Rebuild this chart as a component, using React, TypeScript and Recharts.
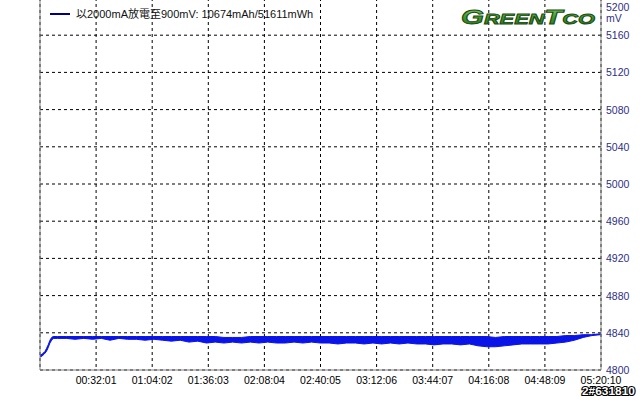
import React from 'react';
import { ComposedChart, Area, XAxis, YAxis, CartesianGrid, ReferenceLine } from 'recharts';

const FONT = '"Liberation Sans", Arial, "Noto Sans CJK TC", sans-serif';

// elapsed time in seconds
const timeSec = [
  0, 70, 140, 170, 220, 280, 340, 400, 450,
  600, 900, 1200, 1500, 1800, 2100, 2400, 2700, 3000, 3300,
  3600, 3900, 4200, 4500, 4800, 5100, 5400, 5700, 6000, 6300,
  6600, 6900, 7200, 7500, 7800, 8100, 8400, 8700, 9000, 9300,
  9600, 9900, 10200, 10500, 10800, 11100, 11400, 11700, 12000, 12300,
  12600, 12900, 13200, 13500, 13800, 14100, 14400, 14700, 15000, 15300,
  15600, 15900, 16200, 16500, 16800, 17100, 17400, 17700, 18000, 18300,
  18600, 18900, 19200, 19210,
];

// lower edge of the noisy voltage trace (mV)
const voltLow = [
  4814, 4815, 4817, 4818, 4820, 4824, 4829, 4832, 4834,
  4834, 4834, 4833, 4834, 4833, 4834, 4832, 4834, 4833, 4833,
  4832, 4833, 4832, 4831, 4832, 4830, 4831, 4829, 4830, 4829,
  4830, 4829, 4830, 4829, 4830, 4829, 4829, 4830, 4829, 4830,
  4829, 4829, 4828, 4829, 4829, 4828, 4829, 4828, 4829, 4828,
  4829, 4828, 4828, 4827, 4828, 4828, 4827, 4828, 4826, 4825,
  4825, 4826, 4827, 4828, 4828, 4828, 4828, 4829, 4830, 4832,
  4835, 4837, 4838, 4838,
];

// upper edge of the noisy voltage trace (mV)
const voltHigh = [
  4816, 4817, 4819, 4820, 4823, 4827, 4832, 4835, 4836,
  4836, 4836, 4836, 4836, 4836, 4836, 4836, 4836, 4836, 4836,
  4836, 4836, 4836, 4836, 4836, 4836, 4836, 4836, 4836, 4835,
  4835, 4835, 4836, 4836, 4836, 4836, 4836, 4836, 4836, 4836,
  4836, 4836, 4836, 4836, 4836, 4836, 4836, 4836, 4836, 4836,
  4836, 4836, 4836, 4836, 4836, 4836, 4836, 4836, 4836, 4836,
  4835, 4836, 4836, 4836, 4836, 4836, 4836, 4836, 4837, 4837,
  4838, 4838, 4839, 4839,
];

const xTicks = [0, 1921, 3842, 5763, 7684, 9605, 11526, 13447, 15368, 17289, 19210];
const yTicks = [4800, 4840, 4880, 4920, 4960, 5000, 5040, 5080, 5120, 5160, 5200];

const data = timeSec.map((t, i) => ({ t, band: [voltLow[i], voltHigh[i]] }));

const pad = (n: number) => String(n).padStart(2, '0');
const fmtTime = (s: number) => {
  if (s === 0) return '';
  const h = Math.floor(s / 3600);
  const m = Math.floor((s % 3600) / 60);
  return `${pad(h)}:${pad(m)}:${pad(s % 60)}`;
};

function VoltTick(props: any) {
  const { x, y, payload } = props;
  const v = payload.value;
  // top label is pushed down into view, with the unit underneath
  const ty = v === 5200 ? 6.5 : y;
  return (
    <g>
      <text x={x} y={ty} dy={4} textAnchor="start" fontSize={10.5} fontFamily={FONT} fill="#2e2e86">
        {v}
      </text>
      {v === 5200 && (
        <text x={x} y={18} dy={4} textAnchor="start" fontSize={10.5} fontFamily={FONT} fill="#2e2e86">
          mV
        </text>
      )}
    </g>
  );
}

export default function App() {
  return (
    <div style={{ position: 'absolute', left: 0, top: 0, width: 640, height: 400, background: '#fff', overflow: 'hidden' }}>
      <ComposedChart width={640} height={400} data={data} margin={{ top: -2, right: 0, left: 40, bottom: 0 }}>
        <CartesianGrid stroke="#000" strokeDasharray="3 3" />
        <XAxis
          type="number"
          dataKey="t"
          domain={[0, 19210]}
          ticks={xTicks}
          interval={0}
          tickFormatter={fmtTime}
          height={30}
          axisLine={{ stroke: '#808080' }}
          tickLine={false}
          tickSize={0}
          tickMargin={7}
          tick={{ fontSize: 10.5, fill: '#000', fontFamily: FONT }}
        />
        <YAxis
          orientation="right"
          domain={[4800, 5200]}
          ticks={yTicks}
          interval={0}
          width={39}
          axisLine={{ stroke: '#808080' }}
          tickLine={false}
          tickSize={0}
          tickMargin={5}
          tick={<VoltTick />}
        />
        <ReferenceLine x={0} stroke="#808080" />
        <Area
          type="linear"
          dataKey="band"
          stroke="#0a14e6"
          fill="#0a14e6"
          fillOpacity={1}
          strokeWidth={1}
          dot={false}
          activeDot={false}
          isAnimationActive={false}
        />
      </ComposedChart>

      <svg width={640} height={400} style={{ position: 'absolute', left: 0, top: 0, pointerEvents: 'none' }}>
        <defs>
          <linearGradient id="logoFill" x1="0" y1="0" x2="0" y2="1">
            <stop offset="0%" stopColor="#8fd870" />
            <stop offset="55%" stopColor="#3d9a2c" />
            <stop offset="100%" stopColor="#2a6e1c" />
          </linearGradient>
        </defs>

        {/* legend */}
        <line x1={50} y1={14} x2={70} y2={14} stroke="#000080" strokeWidth={2} />
        <text x={76} y={18} fontSize={11} fontFamily={FONT} fill="#111">
          以2000mA放電至900mV: 10674mAh/51611mWh
        </text>

        {/* logo */}
        <text
          x={461}
          y={24}
          fontFamily={FONT}
          fontWeight="bold"
          fontStyle="italic"
          fill="url(#logoFill)"
          stroke="#1c4a12"
          strokeWidth={0.9}
          textLength={134}
          lengthAdjust="spacingAndGlyphs"
        >
          <tspan fontSize={21}>G</tspan>
          <tspan fontSize={15.5}>REEN</tspan>
          <tspan fontSize={21}>T</tspan>
          <tspan fontSize={15.5}>CO</tspan>
        </text>

        {/* sample id */}
        <text
          x={582}
          y={395}
          fontSize={11}
          fontWeight="bold"
          fontFamily={FONT}
          fill="#fff"
          stroke="#000"
          strokeWidth={2.2}
          paintOrder="stroke"
          textLength={53}
          lengthAdjust="spacingAndGlyphs"
        >
          2#631810
        </text>
      </svg>
    </div>
  );
}
